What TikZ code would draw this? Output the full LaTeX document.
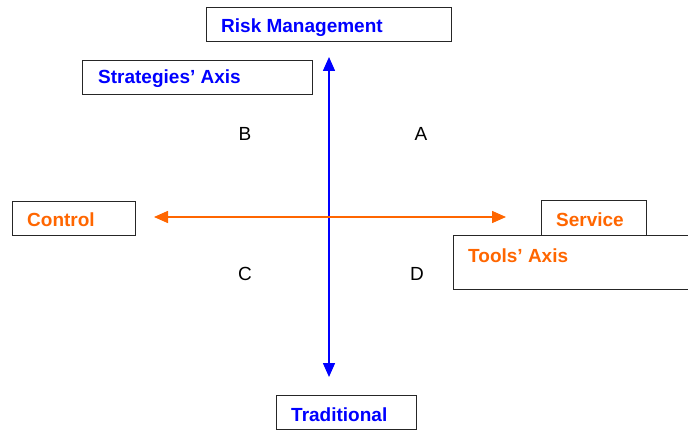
\documentclass[tikz,border=0pt]{standalone}
\usepackage{fontspec}
\setmainfont{Liberation Sans}
\usetikzlibrary{arrows.meta}
\definecolor{axblue}{RGB}{0,0,255}
\definecolor{axorange}{RGB}{255,102,0}
\begin{document}
\begin{tikzpicture}[x=1pt,y=-1pt,
  box/.style={draw=black!85,line width=1.2pt,fill=white,rectangle,anchor=north west,inner sep=0pt},
  lbl/.style={anchor=base west,inner sep=0pt,font=\fontsize{19}{22}\selectfont\bfseries},
  quad/.style={anchor=base,inner sep=0pt,font=\fontsize{19}{22}\selectfont},
  vaxis/.style={draw=axblue,fill=axblue,line width=1.5pt,{Triangle[length=14pt,width=12pt]}-{Triangle[length=14pt,width=12pt]}},
  haxis/.style={draw=axorange,fill=axorange,line width=1.5pt,{Triangle[length=14pt,width=12pt]}-{Triangle[length=14pt,width=12pt]}}]
\useasboundingbox (0,0) rectangle (688,430);
\begin{scope}
\clip (0,0) rectangle (688,430);
% boxes
\node[box,minimum width=245pt,minimum height=34pt] (riskbox) at (206,7) {};
\node[box,minimum width=230pt,minimum height=34pt] (stratbox) at (82,60) {};
\node[box,minimum width=123pt,minimum height=34pt] (ctrlbox) at (12,201) {};
\node[box,minimum width=105pt,minimum height=35pt] (servbox) at (541,200) {};
\node[box,minimum width=245pt,minimum height=54pt] (toolbox) at (453,235) {};
\node[box,minimum width=140pt,minimum height=34pt] (tradbox) at (276,395) {};
\end{scope}
% labels
\node[lbl,text=axblue] (risk) at (221,33) {Risk Management};
\node[lbl,text=axblue] (strat) at (98,84) {Strategies’ Axis};
\node[lbl,text=axorange] (ctrl) at (27,227) {Control};
\node[lbl,text=axorange] (serv) at (556,227) {Service};
\node[lbl,text=axorange] (tool) at (468,263) {Tools’ Axis};
\node[lbl,text=axblue] (trad) at (291,421) {Traditional};
% quadrant letters
\node[quad] (qB) at (245,141) {B};
\node[quad] (qA) at (421,141) {A};
\node[quad] (qC) at (245,281) {C};
\node[quad] (qD) at (417,281) {D};
% axes
\coordinate (vtop) at (329,57);
\coordinate (vbot) at (329,377);
\coordinate (hleft) at (154,217);
\coordinate (hright) at (506,217);
\draw[vaxis] (vtop) -- (vbot);
\draw[haxis] (hleft) -- (hright);
\end{tikzpicture}
\end{document}
